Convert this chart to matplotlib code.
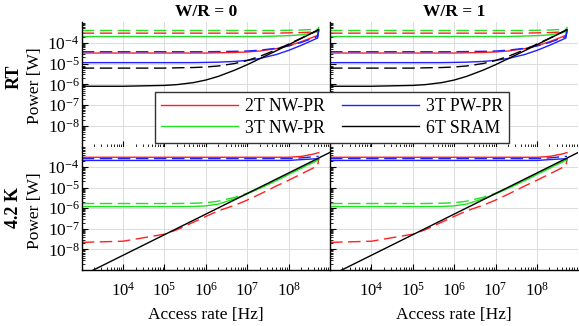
import matplotlib.pyplot as plt
from matplotlib.ticker import LogLocator, NullFormatter
from matplotlib.lines import Line2D

plt.rcParams["font.family"] = "Liberation Serif"
plt.rcParams["mathtext.fontset"] = "custom"
plt.rcParams["mathtext.rm"] = "Liberation Serif"
plt.rcParams["mathtext.it"] = "Liberation Serif:italic"
plt.rcParams["mathtext.bf"] = "Liberation Serif:bold"

# access rate points [Hz]
freq = [1e3, 1e4, 1e5, 2e5, 5e5, 1e6, 2e6, 5e6, 1e7, 2e7, 5e7, 1e8, 2e8, 4e8, 5e8, 5.3e8]

# room temperature power [W] (solid / dashed)
rt_2t = [3.2e-5, 3.2e-5, 3.2e-5, 3.2e-5, 3.2e-5, 3.2e-5, 3.28e-5, 3.4e-5, 3.6e-5, 4.0e-5, 5.2e-5, 7.2e-5, 1.12e-4, 1.9e-4, 2.3e-4, 3.4e-4]
rt_2t_d = [2.9e-4, 2.9e-4, 2.9e-4, 2.9e-4, 2.9e-4, 2.9e-4, 2.9e-4, 2.9e-4, 2.9e-4, 2.9e-4, 2.9e-4, 3.0e-4, 3.1e-4, 3.3e-4, 3.4e-4, 3.5e-4]
rt_3tn = [2.0e-4, 2.0e-4, 2.0e-4, 2.0e-4, 2.0e-4, 2.0e-4, 2.0e-4, 2.0e-4, 2.0e-4, 2.0e-4, 2.1e-4, 2.2e-4, 2.4e-4, 3.0e-4, 3.6e-4, 5.5e-4]
rt_3tn_d = [3.9e-4, 3.9e-4, 3.9e-4, 3.9e-4, 3.9e-4, 3.9e-4, 3.9e-4, 3.9e-4, 3.9e-4, 3.9e-4, 3.9e-4, 4.0e-4, 4.1e-4, 4.4e-4, 4.5e-4, 4.6e-4]
rt_3tp = [1.1e-5, 1.1e-5, 1.1e-5, 1.1e-5, 1.1e-5, 1.13e-5, 1.16e-5, 1.26e-5, 1.42e-5, 1.74e-5, 2.7e-5, 4.3e-5, 7.5e-5, 1.39e-4, 1.7e-4, 4.0e-4]
rt_3tp_d = [3.7e-5, 3.7e-5, 3.7e-5, 3.7e-5, 3.7e-5, 3.7e-5, 3.77e-5, 3.87e-5, 4.0e-5, 4.4e-5, 5.4e-5, 7.0e-5, 1.03e-4, 1.7e-4, 2.0e-4, 4.2e-4]
rt_6t = [8.0e-7, 8.0e-7, 8.8e-7, 9.6e-7, 1.2e-6, 1.6e-6, 2.4e-6, 4.8e-6, 8.8e-6, 1.7e-5, 4.1e-5, 8.1e-5, 1.6e-4, 3.2e-4, 4.0e-4, 4.3e-4]
rt_6t_d = [6.0e-6, 6.0e-6, 6.0e-6, 6.2e-6, 6.4e-6, 6.8e-6, 7.6e-6, 1.0e-5, 1.4e-5, 2.2e-5, 4.6e-5, 8.6e-5, 1.66e-4, 3.26e-4, 4.06e-4, 4.3e-4]

# 4.2 K power [W]
k4_2t = [3.0e-4, 3.0e-4, 3.0e-4, 3.0e-4, 3.0e-4, 3.0e-4, 3.0e-4, 3.0e-4, 3.0e-4, 3.0e-4, 3.0e-4, 3.0e-4, 3.3e-4, 4.3e-4, 4.9e-4, 5.0e-4]
k4_2t_d = [2.2e-8, 2.5e-8, 5.5e-8, 9.0e-8, 2.1e-7, 4.0e-7, 7.5e-7, 1.4e-6, 2.5e-6, 4.8e-6, 1.2e-5, 2.3e-5, 4.6e-5, 9.2e-5, 1.15e-4, 2.3e-4]
k4_3tn = [1.2e-6, 1.2e-6, 1.2e-6, 1.2e-6, 1.22e-6, 1.3e-6, 1.6e-6, 2.9e-6, 5.0e-6, 9.2e-6, 2.2e-5, 4.4e-5, 8.8e-5, 1.75e-4, 2.2e-4, 2.4e-4]
k4_3tn_d = [1.7e-6, 1.7e-6, 1.7e-6, 1.7e-6, 1.75e-6, 1.85e-6, 2.2e-6, 3.4e-6, 5.4e-6, 9.6e-6, 2.25e-5, 4.5e-5, 8.9e-5, 1.76e-4, 2.2e-4, 2.4e-4]
k4_3tp = [2.1e-4, 2.1e-4, 2.1e-4, 2.1e-4, 2.1e-4, 2.1e-4, 2.1e-4, 2.1e-4, 2.1e-4, 2.1e-4, 2.1e-4, 2.1e-4, 2.3e-4, 2.5e-4, 2.5e-4, 2.5e-4]
k4_3tp_d = [2.6e-4, 2.6e-4, 2.6e-4, 2.6e-4, 2.6e-4, 2.6e-4, 2.6e-4, 2.6e-4, 2.6e-4, 2.6e-4, 2.6e-4, 2.6e-4, 2.8e-4, 3.2e-4, 3.3e-4, 3.3e-4]
k4_6t_freq = [1e3, 1e9]
k4_6t = [5.2e-10, 5.2e-4]

labels = ["2T NW-PR", "3T NW-PR", "3T PW-PR", "6T SRAM"]
colors = ["#ff2020", "#22e022", "#2020ff", "black"]
col_titles = ["W/R = 0", "W/R = 1"]
row_titles = ["RT", "4.2 K"]
xticks = [1e4, 1e5, 1e6, 1e7, 1e8]
xtick_labels = ["10$^{4}$", "10$^{5}$", "10$^{6}$", "10$^{7}$", "10$^{8}$"]
yticks = [1e-8, 1e-7, 1e-6, 1e-5, 1e-4]
ytick_labels = ["10$^{-8}$", "10$^{-7}$", "10$^{-6}$", "10$^{-5}$", "10$^{-4}$"]

rt_series = [(rt_2t, rt_2t_d), (rt_3tn, rt_3tn_d), (rt_3tp, rt_3tp_d), (rt_6t, rt_6t_d)]
k4_series = [(k4_2t, k4_2t_d), (k4_3tn, k4_3tn_d), (k4_3tp, k4_3tp_d)]

fig = plt.figure(figsize=(5.79, 3.26), dpi=100)

lefts = [0.1411, 0.5700]
bottoms = [0.5506, 0.1718]
heights = [0.3819, 0.3788]
width = 0.429

for r in range(2):
    for c in range(2):
        ax = fig.add_axes([lefts[c], bottoms[r], width, heights[r]])
        ax.set_xscale("log")
        ax.set_yscale("log")

        if r == 0:
            for (solid, dashed), col in zip(rt_series, colors):
                ax.plot(freq, dashed, color=col, lw=1.0, dashes=(9, 4))
                ax.plot(freq, solid, color=col, lw=1.0)
        else:
            for (solid, dashed), col in zip(k4_series, colors[:3]):
                ax.plot(freq, dashed, color=col, lw=1.0, dashes=(9, 4))
                ax.plot(freq, solid, color=col, lw=1.0)
            ax.plot(k4_6t_freq, k4_6t, color="black", lw=1.0)

        ax.set_xlim(1e3, 1e9)
        ax.set_ylim(1e-9, 1e-3)
        ax.set_xticks(xticks)
        ax.set_yticks(yticks)
        ax.xaxis.set_minor_locator(LogLocator(base=10, subs=range(2, 10), numticks=20))
        ax.yaxis.set_minor_locator(LogLocator(base=10, subs=range(2, 10), numticks=20))
        ax.xaxis.set_minor_formatter(NullFormatter())
        ax.yaxis.set_minor_formatter(NullFormatter())

        ax.tick_params(which="major", direction="in", length=4, width=0.8, pad=8.5)
        ax.tick_params(axis="y", which="major", pad=1.5)
        ax.tick_params(which="minor", direction="in", length=2, width=0.6)

        if r == 1:
            ax.set_xticklabels(xtick_labels, fontsize=12)
            ax.set_xlabel("Access rate [Hz]", fontsize=12.5, labelpad=5)
        else:
            ax.set_xticklabels([])
            ax.spines["bottom"].set_visible(False)
        if c == 0:
            ax.set_yticklabels(ytick_labels, fontsize=12.5)
        else:
            ax.set_yticklabels([])

        ax.grid(True, which="major", color="#dcdcdc", lw=0.7)
        ax.set_axisbelow(True)
        ax.spines["top"].set_visible(False)
        ax.spines["right"].set_visible(False)
        ax.spines["left"].set_linewidth(1.0)
        ax.spines["bottom"].set_linewidth(1.0)

        if r == 0:
            ax.set_title(col_titles[c], fontsize=12.5, fontweight="bold", pad=4)

# row labels on the left
fig.text(14 / 579, 1 - 77 / 326, row_titles[0], rotation=90, fontsize=13,
         fontweight="bold", ha="center", va="center")
fig.text(35 / 579, 1 - 86 / 326, "Power [W]", rotation=90, fontsize=12.5,
         ha="center", va="center")
fig.text(14 / 579, 1 - 208 / 326, row_titles[1], rotation=90, fontsize=13,
         fontweight="bold", ha="center", va="center")
fig.text(35 / 579, 1 - 211 / 326, "Power [W]", rotation=90, fontsize=12.5,
         ha="center", va="center")

# legend spanning both top panels
handles = [Line2D([], [], color=col, lw=1.0) for col in colors]
leg = fig.legend(handles, labels, ncol=2, loc="upper left",
                 bbox_to_anchor=(155 / 579, 1 - 92 / 326), borderaxespad=0,
                 fontsize=12.8, frameon=True, fancybox=False, framealpha=1,
                 edgecolor="#333333", handlelength=4.3, handletextpad=0.4,
                 columnspacing=1.0, labelspacing=0.25, borderpad=0.35)
leg.get_frame().set_linewidth(1.0)

fig.savefig("out.png", dpi=100)
